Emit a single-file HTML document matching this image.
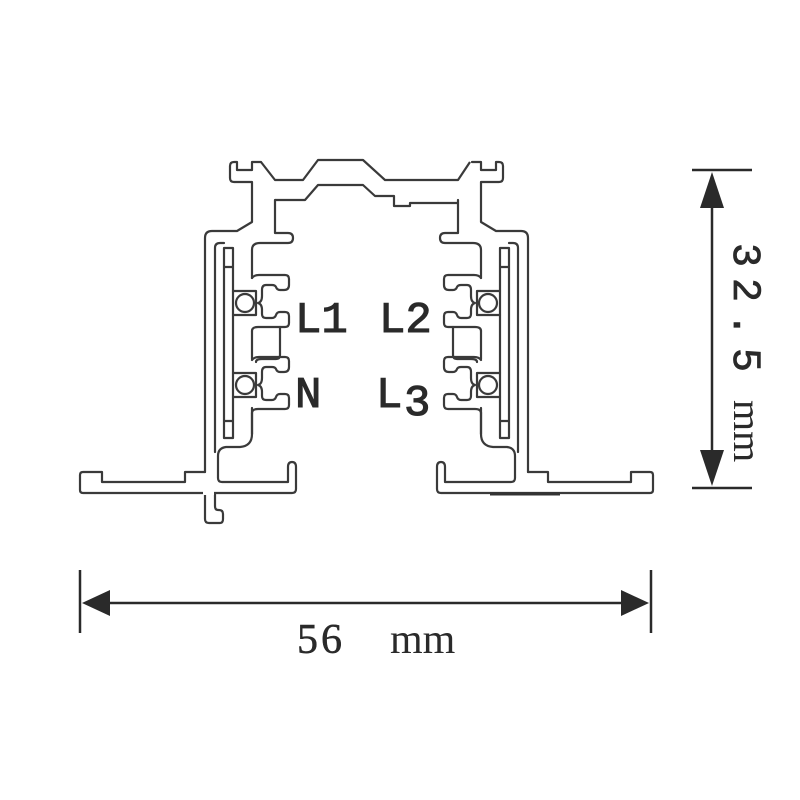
<!DOCTYPE html>
<html><head><style>html,body{margin:0;padding:0;background:#fff;}svg{display:block}</style></head>
<body>
<svg width="800" height="800" viewBox="0 0 800 800" xmlns="http://www.w3.org/2000/svg">
<defs>
<g id="half" fill="none" stroke="#3a3a3a" stroke-width="2.2" stroke-linejoin="round" stroke-linecap="round">
  <path d="M205,472 H185 V482 H102 V472 H83 Q80,472 80,475 V490 Q80,493 83,493 H292 Q296,493 296,489 V467 Q296,462 292,462 Q288,462 288,467 V482 H222 Q218,482 218,478 V456 Q218,448 226,447 H240 Q252,446 252,434 V408"/>
  <path d="M205,472 V238 Q205,231 212,231 H237 L252,222 V182 H234 Q230,182 230,178 V166 Q230,162 234,162 H237 V170 H252 V162 H261"/>
  <path d="M215,452 V248 Q215,243 220,243 H224"/>
  <path d="M275,200 V233 H288 Q293,233 293,238 Q293,243 288,243 H260 Q252,243 252,250 V278"/>
  <path d="M224,248 H233 V438 H224 Z M224,267 H233 M224,421 H233"/>
  <g id="cell">
    <path d="M252,278 Q254,275 259,275 H285 Q289,275 289,279 V285 Q289,290 284,290 H280 Q277,290 276,287 Q275,285 272,285 H266 Q262,285 262,290 V296 Q262,302 258,303 Q262,304 262,310 V314 Q262,318 266,318 H272 Q275,318 276,315 Q277,312 280,312 H285 Q289,312 289,316 V323 Q289,327 285,327 H258 Q252,327 252,331"/>
    <path d="M233,291 H256 V315 H233"/>
    <circle cx="245" cy="303" r="9"/>
  </g>
  <use href="#cell" transform="translate(0,82)"/>
  <path d="M280,327 V355 Q280,359 276,359 H262 Q256,359 256,362"/>
  <path d="M252,331 V359 M252,413 V434"/>
</g>
</defs>
<use href="#half"/>
<use href="#half" transform="translate(733,0) scale(-1,1)"/>
<g fill="none" stroke="#3a3a3a" stroke-width="2.2" stroke-linejoin="round">
  <path d="M205,493 V519 Q205,523 209,523 H220 Q223,523 223,519 V514 Q223,510 219,510 H218 Q215,510 215,506 V493"/>
  <rect x="203" y="491" width="11" height="4" fill="#fff" stroke="none"/>
</g>
<g fill="none" stroke="#3a3a3a" stroke-width="2.2" stroke-linejoin="round">
  <path d="M261,162 L275,180 H303 L318,160 H363 L385,180 H458 L470,162"/>
  <path d="M275,200 H305 L318,185 H363 L375,196 H394 V206 H410 V203 H458"/>
</g>
<line x1="490" y1="494" x2="560" y2="494" stroke="#333" stroke-width="3"/>
<g font-family="'Liberation Mono', monospace" font-size="44" fill="#2a2a2a" stroke="#2a2a2a" stroke-width="1.1">
  <text x="295" y="332">L1</text>
  <text x="379" y="332">L2</text>
  <text x="295" y="407">N</text>
  <text x="376" y="407">L</text>
  <text x="404" y="415">3</text>
</g>
<g stroke="#2a2a2a" stroke-width="2.5">
  <line x1="692" y1="170" x2="752" y2="170"/>
  <line x1="692" y1="488" x2="752" y2="488"/>
  <line x1="712" y1="190" x2="712" y2="470"/>
</g>
<polygon points="712,172 700,208 724,208" fill="#2a2a2a"/>
<polygon points="712,486 700,450 724,450" fill="#2a2a2a"/>
<text transform="translate(734,243) rotate(90)" font-family="'Liberation Mono', monospace" font-size="40" letter-spacing="11" fill="#2a2a2a" stroke="#2a2a2a" stroke-width="0.8">32.5</text>
<text transform="translate(734,400) rotate(90)" font-family="'Liberation Serif', serif" font-size="40" fill="#2a2a2a">mm</text>
<g stroke="#2a2a2a" stroke-width="2.5">
  <line x1="80" y1="570" x2="80" y2="633"/>
  <line x1="651" y1="570" x2="651" y2="633"/>
  <line x1="100" y1="603" x2="630" y2="603"/>
</g>
<polygon points="82,603 110,590 110,616" fill="#2a2a2a"/>
<polygon points="649,603 621,590 621,616" fill="#2a2a2a"/>
<text x="297" y="653" font-family="'Liberation Serif', serif" font-size="42" letter-spacing="3" fill="#2a2a2a" stroke="#2a2a2a" stroke-width="0.5">56</text>
<text x="390" y="653" font-family="'Liberation Serif', serif" font-size="42" fill="#2a2a2a">mm</text>
</svg>
</body></html>
